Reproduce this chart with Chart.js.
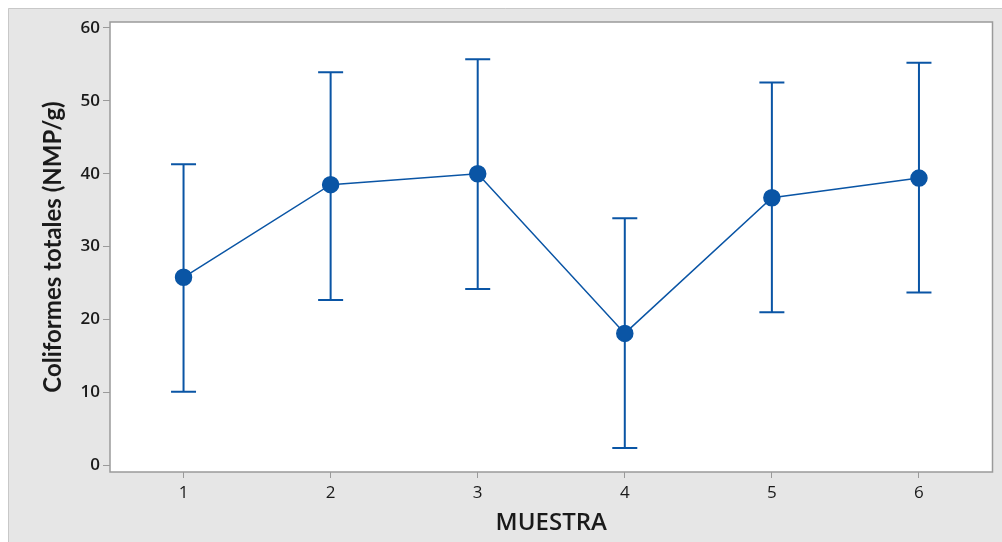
<!DOCTYPE html>
<html>
<head>
<meta charset="utf-8">
<script src="https://cdn.jsdelivr.net/npm/chart.js@4/dist/chart.umd.min.js"></script>
<style>
  html, body { margin: 0; padding: 0; background: #fff; }
  #wrap { width: 1002px; height: 542px; }
</style>
</head>
<body>
<div id="wrap"><canvas id="myChart" width="1002" height="542"></canvas></div>
<script>
// values
const muestras = ['1', '2', '3', '4', '5', '6'];
const medias = [25.8, 38.5, 40.0, 18.1, 36.7, 39.4];
const superior = [41.3, 53.9, 55.7, 33.9, 52.5, 55.2];
const inferior = [10.1, 22.7, 24.2, 2.4, 21.0, 23.7];
const yTicks = [0, 10, 20, 30, 40, 50, 60];

const azul = '#0a55a5';

// grey panel behind the chart + frame round the plot area
const fondo = {
  id: 'fondo',
  beforeDraw(chart) {
    const c = chart.ctx;
    c.save();
    c.fillStyle = '#e6e6e6';
    c.fillRect(8, 8, chart.width - 8, chart.height - 8);
    c.strokeStyle = '#c8c8c8';
    c.lineWidth = 1;
    c.beginPath();
    c.moveTo(8.5, chart.height);
    c.lineTo(8.5, 8.5);
    c.lineTo(chart.width, 8.5);
    c.stroke();
    const a = chart.chartArea;
    c.fillStyle = '#fff';
    c.fillRect(a.left, a.top, a.right - a.left, a.bottom - a.top);
    c.restore();
  },
  afterDraw(chart) {
    const a = chart.chartArea;
    const c = chart.ctx;
    c.save();
    c.strokeStyle = '#9a9a9a';
    c.lineWidth = 1.5;
    c.strokeRect(a.left, a.top, a.right - a.left, a.bottom - a.top);
    c.restore();
  }
};

// error bars drawn through the scales
const barras = {
  id: 'barras',
  beforeDatasetsDraw(chart) {
    const x = chart.scales.x, y = chart.scales.y;
    const c = chart.ctx;
    c.save();
    c.strokeStyle = azul;
    c.lineWidth = 2;
    muestras.forEach((m, i) => {
      const px = x.getPixelForValue(i);
      const top = y.getPixelForValue(superior[i]);
      const bot = y.getPixelForValue(inferior[i]);
      c.beginPath();
      c.moveTo(px, top); c.lineTo(px, bot);
      c.moveTo(px - 12.5, top); c.lineTo(px + 12.5, top);
      c.moveTo(px - 12.5, bot); c.lineTo(px + 12.5, bot);
      c.stroke();
    });
    c.restore();
  }
};

const ctx = document.getElementById('myChart');
new Chart(ctx, {
  type: 'line',
  data: {
    labels: muestras,
    datasets: [{
      data: medias,
      borderColor: azul,
      backgroundColor: azul,
      borderWidth: 1.5,
      pointRadius: 8,
      pointHoverRadius: 8,
      pointBackgroundColor: azul,
      pointBorderColor: azul,
      tension: 0
    }]
  },
  options: {
    responsive: false,
    animation: false,
    layout: { padding: { top: 22, right: 4, left: 0, bottom: 0 } },
    plugins: { legend: { display: false }, tooltip: { enabled: false } },
    scales: {
      x: {
        offset: true,
        grid: { drawOnChartArea: false, tickLength: 6, color: '#9a9a9a', offset: false },
        border: { display: false },
        ticks: {
          color: '#1a1a1a', padding: 5,
          font: { family: 'Open Sans', size: 17 }
        },
        title: {
          display: true, text: 'MUESTRA', color: '#1a1a1a',
          font: { family: 'Open Sans', size: 24, weight: '600' },
          padding: { top: 0, bottom: 4 }
        },
        afterFit(s) {
          s.height = 70;
          s.paddingLeft = 0;
          s.paddingRight = 0;
        }
      },
      y: {
        min: -0.9, max: 60.8,
        afterBuildTicks(s) { s.ticks = yTicks.map(v => ({ value: v })); },
        grid: { drawOnChartArea: false, tickLength: 7, color: '#9a9a9a' },
        border: { display: false },
        ticks: {
          color: '#1a1a1a', padding: 3,
          font: { family: 'Open Sans', size: 17, weight: '600' }
        },
        title: {
          display: true, text: 'Coliformes totales (NMP/g)', color: '#1a1a1a',
          font: { family: 'Lato', size: 24, weight: '700' },
          padding: { top: 39, bottom: 0 }
        },
        afterFit(s) {
          s.width = 110;
          s.paddingTop = 0;
          s.paddingBottom = 0;
        }
      }
    }
  },
  plugins: [fondo, barras]
});
</script>
</body>
</html>
